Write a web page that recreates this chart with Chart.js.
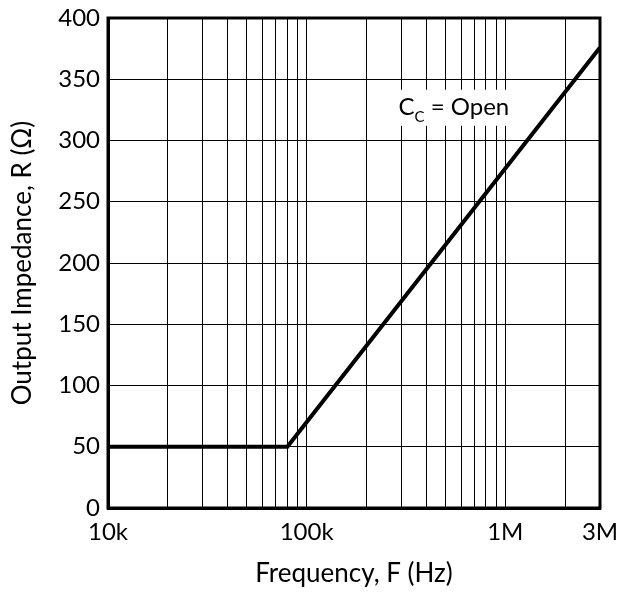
<!DOCTYPE html>
<html>
<head>
<meta charset="utf-8">
<script src="https://cdn.jsdelivr.net/npm/chart.js@4/dist/chart.umd.min.js"></script>
<style>
  html, body { margin: 0; padding: 0; background: #fff; }
  #wrap { width: 619px; height: 593px; }
</style>
</head>
<body>
<div id="wrap"><canvas id="impedance"></canvas></div>
<script>
// data
var freq = [10000, 80000, 3000000];
var impedance = [50, 50, 376];

// x gridlines (log decades) and the ones that get a label
var xGrid = [10000, 20000, 30000, 40000, 50000, 60000, 70000, 80000, 90000,
             100000, 200000, 300000, 400000, 500000, 600000, 700000, 800000, 900000,
             1000000, 2000000, 3000000];
var xLabels = { 10000: '10k', 100000: '100k', 1000000: '1M', 3000000: '3M' };

var FONT = 'Lato, "Open Sans", sans-serif';

// frame + "C_C = Open" note
var extras = {
    id: 'extras',
    afterDraw: function (chart) {
        var c = chart.ctx, a = chart.chartArea;
        var x = chart.scales.x.getPixelForValue(290000);
        var y = chart.scales.y.getPixelForValue(321);
        c.save();
        c.font = '24px ' + FONT;
        var w1 = c.measureText('C').width;
        c.font = '15px ' + FONT;
        var w2 = c.measureText('C').width;
        c.font = '24px ' + FONT;
        var w3 = c.measureText(' = Open').width;
        c.fillStyle = '#fff';
        c.fillRect(x - 6, y - 25, w1 + w2 + w3 + 10, 36);
        c.fillStyle = '#000';
        c.textBaseline = 'alphabetic';
        c.fillText('C', x, y);
        c.font = '15px ' + FONT;
        c.fillText('C', x + w1, y + 7);
        c.font = '24px ' + FONT;
        c.fillText(' = Open', x + w1 + w2, y);

        c.strokeStyle = '#000';
        c.lineWidth = 3;
        c.strokeRect(a.left, a.top, a.right - a.left, a.bottom - a.top);
        c.restore();
    }
};

var ctx = document.getElementById('impedance').getContext('2d');
var chart = new Chart(ctx, {
    type: 'line',
    data: {
        datasets: [{
            data: freq.map(function (f, i) { return { x: f, y: impedance[i] }; }),
            borderColor: '#000',
            borderWidth: 4,
            pointRadius: 0,
            tension: 0,
            fill: false
        }]
    },
    options: {
        responsive: true,
        maintainAspectRatio: false,
        animation: false,
        layout: { padding: { left: 3, right: 19, top: 18, bottom: 0 } },
        plugins: { legend: { display: false }, tooltip: { enabled: false } },
        scales: {
            x: {
                type: 'logarithmic',
                min: 10000,
                max: 3000000,
                afterBuildTicks: function (scale) {
                    scale.ticks = xGrid.map(function (v) { return { value: v }; });
                },
                afterFit: function (scale) {
                    scale.height = 85;
                    scale.paddingLeft = 0;
                    scale.paddingRight = 0;
                },
                grid: { color: '#000', lineWidth: 1, drawTicks: false },
                border: { color: '#000', width: 3 },
                ticks: {
                    autoSkip: false,
                    maxRotation: 0,
                    padding: 10,
                    color: '#000',
                    font: { family: FONT, size: 24 },
                    callback: function (v) { return xLabels[v] || ''; }
                },
                title: {
                    display: true,
                    text: 'Frequency, F (Hz)',
                    color: '#000',
                    font: { family: FONT, size: 26 },
                    padding: { top: 8 }
                }
            },
            y: {
                min: 0,
                max: 400,
                afterFit: function (scale) {
                    scale.width = 105;
                    scale.paddingTop = 0;
                },
                grid: { color: '#000', lineWidth: 1, drawTicks: false },
                border: { color: '#000', width: 3 },
                ticks: {
                    stepSize: 50,
                    padding: 8,
                    color: '#000',
                    font: { family: FONT, size: 24 }
                },
                title: {
                    display: true,
                    text: 'Output Impedance, R (Ω)',
                    color: '#000',
                    font: { family: FONT, size: 26 },
                    padding: { bottom: 4 }
                }
            }
        }
    },
    plugins: [extras]
});
</script>
</body>
</html>
